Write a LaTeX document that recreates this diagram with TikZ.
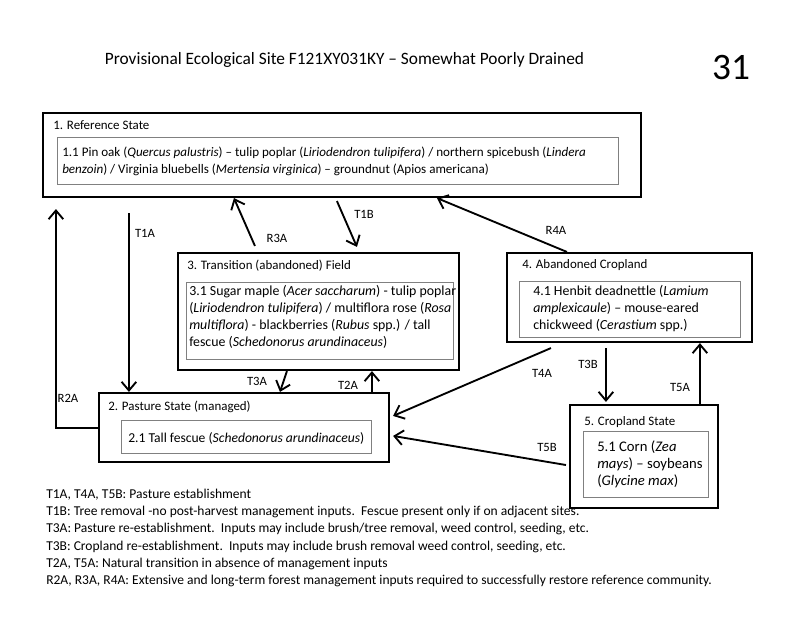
\documentclass[tikz,border=0pt]{standalone}
\usepackage{fontspec}
\setmainfont{Carlito}
\usetikzlibrary{arrows.meta,fit,calc}
\begin{document}
\begin{tikzpicture}[x=0.75pt,y=-0.75pt,
 outer/.style={draw, line width=1.6pt, inner sep=0pt},
 inbox/.style={draw=gray, line width=0.6pt, inner sep=0pt},
 ttl/.style={anchor=west, inner sep=0pt, font=\fontsize{9.7}{12}\selectfont},
 body/.style={anchor=west, inner sep=0pt, align=left},
 lbl/.style={inner sep=0pt, font=\fontsize{9.5}{12}\selectfont},
 arr/.style={line width=1.4pt, -{Straight Barb[length=6.5pt,width=11pt]}},
 note/.style={anchor=west, inner sep=0pt, align=left, font=\fontsize{10.15}{12.9}\selectfont}
]
\useasboundingbox (0,0) rectangle (800,619);
\fill[white] (0,0) rectangle (800,619);

% title
\node[inner sep=0pt, font=\fontsize{13}{16}\selectfont] (title) at (344.5,60) {Provisional Ecological Site F121XY031KY -- Somewhat Poorly Drained};
\node[inner sep=0pt, font=\fontsize{28}{30}\selectfont] (num) at (731,68) {31};

% state boxes
\node[outer, fit={(43,113) (641,197)}] (s1) {};
\node[inbox, fit={(57,137) (618,184)}] (i1) {};
\node[outer, fit={(178,253) (459,370)}] (s3) {};
\node[inbox, fit={(186,282) (453,359)}] (i3) {};
\node[outer, fit={(507,253) (752,342)}] (s4) {};
\node[inbox, fit={(519,281) (740,337)}] (i4) {};
\node[outer, fit={(99,393) (389,462)}] (s2) {};
\node[inbox, fit={(121,420) (371,453)}] (i2) {};
\node[outer, fit={(570,405) (718,508)}] (s5) {};
\node[inbox, fit={(583,431) (708,497)}] (i5) {};

% titles
\node[ttl] (t1) at (53,125) {1. Reference State};
\node[ttl] (t3) at (187,266) {3. Transition (abandoned) Field};
\node[ttl] (t4) at (522,265) {4. Abandoned Cropland};
\node[ttl] (t2) at (108,407) {2. Pasture State (managed)};
\node[ttl] (t5) at (584,422) {5. Cropland State};

% community text
\node[body, font=\fontsize{9.8}{12.75}\selectfont] (b1) at (62,161.5) {1.1 Pin oak (\textit{Quercus palustris}) -- tulip poplar (\textit{Liriodendron tulipifera}) / northern spicebush (\textit{Lindera}\\\textit{benzoin}) / Virginia bluebells (\textit{Mertensia virginica}) -- groundnut (Apios americana)};
\node[body, font=\fontsize{10.4}{12.75}\selectfont] (b3) at (189,317) {3.1 Sugar maple (\textit{Acer saccharum}) - tulip poplar\\(\textit{Liriodendron tulipifera}) / multiflora rose (\textit{Rosa}\\\textit{multiflora}) - blackberries (\textit{Rubus} spp.) / tall\\fescue (\textit{Schedonorus arundinaceus})};
\node[body, font=\fontsize{10.4}{12.75}\selectfont] (b4) at (533,309) {4.1 Henbit deadnettle (\textit{Lamium}\\\textit{amplexicaule}) -- mouse-eared\\chickweed (\textit{Cerastium} spp.)};
\node[body, font=\fontsize{10.2}{12.75}\selectfont] (b2) at (128,438) {2.1 Tall fescue (\textit{Schedonorus arundinaceus})};
\node[body, font=\fontsize{11}{12.75}\selectfont] (b5) at (597,464) {5.1 Corn (\textit{Zea}\\\textit{mays}) -- soybeans\\(\textit{Glycine max})};

% connectors
\draw[arr] ($(s1.south west)+(87,15)$) -- ($(s2.north west)+(31,0)$);
\draw[arr] ($(s2.west)+(0,0.5)$) -| ($(s1.south west)+(14,11)$);
\draw[arr] ($(s3.north west)+(78,-6)$) -- ($(s1.south west)+(192,0)$);
\draw[arr] ($(s1.south west)+(295,3)$) -- ($(s3.north west)+(180,-5)$);
\draw[arr] ($(s4.north west)+(61,0)$) -- ($(s1.south west)+(395,0)$);
\draw[arr] ($(s3.south west)+(110,0)$) -- ($(s2.north west)+(182,0)$);
\draw[arr] ($(s2.north west)+(274,0)$) -- ($(s3.south west)+(195,0)$);
\draw[arr] ($(s4.south west)+(45,5)$) -- ($(s2.north east)+(3,24)$);
\draw[arr] ($(s5.west)+(-3,8.5)$) -- ($(s2.north east)+(3,44)$);
\draw[arr] ($(s4.south west)+(100,5)$) -- ($(s5.north west)+(37,-2)$);
\draw[arr] ($(s5.north west)+(131,0)$) -- ($(s4.south west)+(194,0)$);

% labels
\node[lbl] (l1a) at (145,233) {T1A};
\node[lbl] (l3a) at (277,238) {R3A};
\node[lbl] (l1b) at (364,214) {T1B};
\node[lbl] (l4a) at (556,230) {R4A};
\node[lbl] (lt3a) at (257,381) {T3A};
\node[lbl] (lt2a) at (348,385) {T2A};
\node[lbl] (lr2a) at (68,398) {R2A};
\node[lbl] (lt4a) at (542,373) {T4A};
\node[lbl] (lt3b) at (588,364) {T3B};
\node[lbl] (lt5a) at (680,387) {T5A};
\node[lbl] (lt5b) at (547,447) {T5B};

% notes
\node[note] (notes) at (46,538) {T1A, T4A, T5B: Pasture establishment\\
T1B: Tree removal -no post-harvest management inputs.\ \ Fescue present only if on adjacent sites.\\
T3A: Pasture re-establishment.\ \ Inputs may include brush/tree removal, weed control, seeding, etc.\\
T3B: Cropland re-establishment.\ \ Inputs may include brush removal weed control, seeding, etc.\\
T2A, T5A: Natural transition in absence of management inputs\\
R2A, R3A, R4A: Extensive and long-term forest management inputs required to successfully restore reference community.};
\end{tikzpicture}
\end{document}
